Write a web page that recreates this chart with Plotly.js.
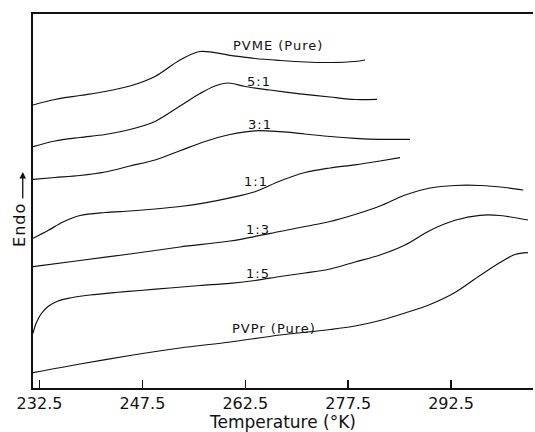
<!DOCTYPE html>
<html>
<head>
<meta charset="utf-8">
<script src="https://cdn.plot.ly/plotly-3.0.1.min.js"></script>
<style>
  html, body { margin: 0; padding: 0; background: #fff; }
  #chart { width: 535px; height: 432px; }
  .annotation-text { letter-spacing: 1px; }
</style>
</head>
<body>
<div id="chart"></div>
<script>
// Temperature (K) and endothermic signal (arbitrary units)
const pvmeT = [231.55, 234.76, 238.40, 242.05, 245.69, 249.34, 252.98, 255.90, 260.27, 263.91, 267.56, 271.20, 274.85, 278.49, 279.95];
const pvmeY = [28.3, 28.85, 29.25, 29.65, 30.2, 31.15, 32.8, 33.65, 33.27, 32.95, 32.75, 32.6, 32.55, 32.65, 32.8];

const r51T = [231.55, 234.76, 238.40, 242.05, 245.69, 249.34, 252.98, 255.90, 258.08, 259.98, 262.46, 266.10, 270.47, 274.85, 278.49, 281.70];
const r51Y = [24.13, 24.7, 25.05, 25.35, 25.85, 26.65, 28.2, 29.45, 30.2, 30.5, 30.15, 29.8, 29.42, 29.1, 28.85, 28.87];

const r31T = [231.55, 234.76, 238.40, 242.05, 245.69, 249.34, 252.98, 256.62, 260.27, 263.91, 267.56, 271.20, 274.85, 278.49, 282.13, 286.51];
const r31Y = [20.87, 21.05, 21.25, 21.6, 22.2, 22.8, 23.73, 24.65, 25.35, 25.72, 25.63, 25.4, 25.15, 24.97, 24.87, 24.87];

const r11T = [231.55, 233.74, 235.92, 238.40, 242.05, 245.69, 249.34, 252.98, 256.62, 260.27, 263.91, 267.56, 271.20, 274.85, 278.49, 282.13, 285.05];
const r11Y = [14.97, 15.75, 16.6, 17.25, 17.55, 17.7, 17.9, 18.15, 18.52, 19.02, 19.63, 20.7, 21.55, 22.0, 22.32, 22.7, 23.03];

const r13T = [231.55, 238.40, 245.69, 252.98, 260.27, 267.56, 271.20, 274.85, 278.49, 282.13, 285.78, 289.42, 293.07, 296.71, 300.36, 303.02];
const r13Y = [12.13, 12.75, 13.4, 14.1, 14.7, 15.65, 16.15, 16.65, 17.35, 18.2, 19.3, 20.0, 20.25, 20.25, 20.05, 19.8];

const r15T = [231.55, 231.99, 232.72, 233.74, 235.20, 236.95, 239.86, 243.51, 247.15, 251.52, 255.90, 260.27, 263.91, 267.56, 271.20, 274.85, 278.49, 282.13, 285.78, 289.42, 293.07, 296.71, 299.63, 303.71];
const r15Y = [5.47, 6.45, 7.4, 8.15, 8.7, 9.0, 9.3, 9.55, 9.75, 10.0, 10.25, 10.47, 10.75, 11.15, 11.5, 11.9, 12.6, 13.3, 14.3, 15.75, 16.77, 17.27, 17.25, 16.8];

const pvprT = [231.55, 238.40, 245.69, 252.98, 260.27, 267.56, 274.85, 278.49, 282.13, 285.78, 289.42, 293.07, 296.71, 299.63, 301.81, 303.71];
const pvprY = [1.53, 2.4, 3.25, 4.0, 4.6, 5.3, 5.85, 6.2, 6.75, 7.5, 8.35, 9.55, 11.25, 12.55, 13.35, 13.53];

const seriesNames = ['PVME (Pure)', '5:1', '3:1', '1:1', '1:3', '1:5', 'PVPr (Pure)'];
const tickVals = [232.5, 247.5, 262.5, 277.5, 292.5];
const tickText = ['232.5', '247.5', '262.5', '277.5', '292.5'];

// label anchor points (layout)
const labelT = [267.3, 264.5, 264.6, 264.1, 264.4, 264.4, 266.7];
const labelY = [34.3, 30.7, 26.4, 20.7, 15.9, 11.5, 6.0];

const xs = [pvmeT, r51T, r31T, r11T, r13T, r15T, pvprT];
const ys = [pvmeY, r51Y, r31Y, r11Y, r13Y, r15Y, pvprY];

const FONT = 'DejaVu Sans, sans-serif';
const INK = '#111111';

const traces = xs.map((x, i) => ({
  x: x, y: ys[i], name: seriesNames[i],
  type: 'scatter', mode: 'lines',
  line: { color: INK, width: 1.2, shape: 'spline', smoothing: 0.9 },
  hoverinfo: 'skip', showlegend: false
}));

const annotations = seriesNames.map((t, i) => ({
  text: t, x: labelT[i], y: labelY[i], xref: 'x', yref: 'y',
  xanchor: 'center', yanchor: 'middle',
  showarrow: false, font: { family: FONT, size: 13, color: INK }
}));
annotations.push({
  text: 'Endo', xref: 'paper', yref: 'paper', x: -0.026, y: 0.436,
  xanchor: 'center', yanchor: 'middle',
  textangle: -90, showarrow: false, font: { family: FONT, size: 16, color: INK }
});
annotations.push({
  text: '', xref: 'paper', yref: 'paper', x: -0.0205, y: 0.5775,
  showarrow: true, ax: 0, ay: 28, arrowhead: 2, arrowsize: 1, arrowwidth: 1.3, arrowcolor: INK
});

const layout = {
  width: 535, height: 432,
  margin: { l: 33, r: 2, t: 14, b: 44 },
  paper_bgcolor: '#ffffff', plot_bgcolor: '#ffffff',
  showlegend: false,
  font: { family: FONT, color: INK },
  xaxis: {
    range: [231.55, 304.44],
    tickmode: 'array', tickvals: tickVals, ticktext: tickText,
    ticks: 'inside', ticklen: 8, tickwidth: 1.5, tickcolor: INK,
    showline: true, linecolor: INK, linewidth: 2, mirror: true,
    showgrid: false, zeroline: false,
    tickfont: { family: FONT, size: 16, color: INK },
    title: { text: 'Temperature (°K)', font: { family: FONT, size: 17, color: INK }, standoff: 6 }
  },
  yaxis: {
    range: [0, 37.4],
    showticklabels: false, ticks: '',
    showline: true, linecolor: INK, linewidth: 2,
    showgrid: false, zeroline: false
  },
  annotations: annotations
};

Plotly.newPlot('chart', traces, layout, { displayModeBar: false, staticPlot: true });
</script>
</body>
</html>
